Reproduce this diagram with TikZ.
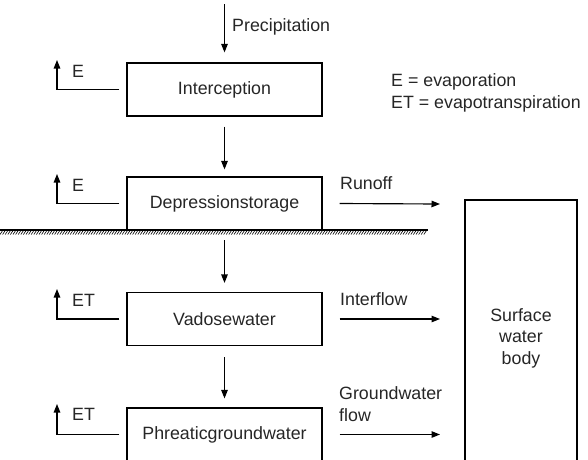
\documentclass[tikz,border=0pt]{standalone}
\usepackage{fontspec}
\setmainfont{Liberation Sans}
\usetikzlibrary{arrows.meta,calc}
\begin{document}
\begin{tikzpicture}[x=1pt,y=-1pt,
  every node/.style={font=\fontsize{17.8}{21}\selectfont, inner sep=0pt, text=black!85},
  box/.style={draw, line width=1.15pt, minimum width=195pt, minimum height=53pt},
  arr/.style={line width=1.15pt, -{Triangle[length=8.5pt,width=6.5pt]}},
  lbl/.style={anchor=west}]
\useasboundingbox (0,0) rectangle (588,459);
\clip (0,0) rectangle (588,459);
% boxes
\node[box] (int) at (224.5,89.5) {Interception};
\node[box] (dep) at (224.5,203.5) {Depressionstorage};
\node[box] (vad) at (224.5,319) {Vadosewater};
\node[box] (phr) at (224.5,434.5) {Phreaticgroundwater};
\node[draw, line width=1.15pt, minimum width=112pt, minimum height=276pt, align=center,
      font=\fontsize{17.8}{21.5}\selectfont] (swb) at (521,338) {Surface\\water\\body};
% ground line
\draw[line width=1.4pt] (0,230) -- (428,230);
\foreach \x in {0,2.6,...,425} \draw[line width=0.6pt] (\x,234.5) -- (\x+3,230);
% precipitation
\coordinate (p0) at (224.5,4);
\draw[arr] (p0) -- ([yshift=10pt]int.north);
\node[lbl] (ptxt) at (232,27) {Precipitation};
% vertical arrows
\draw[arr] ([yshift=-10pt]int.south) -- ([yshift=7pt]dep.north);
\coordinate (g0) at (224.5,240);
\draw[arr] (g0) -- ([yshift=9pt]vad.north);
\draw[arr] ([yshift=-11pt]vad.south) -- ([yshift=9pt]phr.north);
% evaporation arrows
\coordinate (e1) at (57,60);
\coordinate (e2) at (57,174);
\coordinate (e3) at (57,289);
\coordinate (e4) at (57,404);
\draw[arr] ([xshift=-7pt]int.west) -| (e1);
\draw[arr] ([xshift=-7pt]dep.west) -| (e2);
\draw[arr] ([xshift=-7pt]vad.west) -| (e3);
\draw[arr] ([xshift=-7pt]phr.west) -| (e4);
\node[lbl] (t1) at (72,71) {E};
\node[lbl] (t2) at (72,185) {E};
\node[lbl] (t3) at (72,300) {ET};
\node[lbl] (t4) at (72,414) {ET};
% legend
\node[lbl, align=left, font=\fontsize{17.8}{22.5}\selectfont] (leg) at (391,93) {E = evaporation\\ET = evapotranspiration};
% horizontal flows
\coordinate (r1) at (440,204);
\coordinate (r2) at (440,319);
\coordinate (r3) at (440,434.5);
\draw[arr] ([xshift=17pt]dep.east) -- (r1);
\draw[arr] ([xshift=17pt]vad.east) -- (r2);
\draw[arr] ([xshift=17pt]phr.east) -- (r3);
\node[lbl] (f1) at (340,183) {Runoff};
\node[lbl] (f2) at (340,299) {Interflow};
\node[lbl, align=left, font=\fontsize{17.8}{22}\selectfont] (f3) at (339,404) {Groundwater\\flow};
\end{tikzpicture}
\end{document}
